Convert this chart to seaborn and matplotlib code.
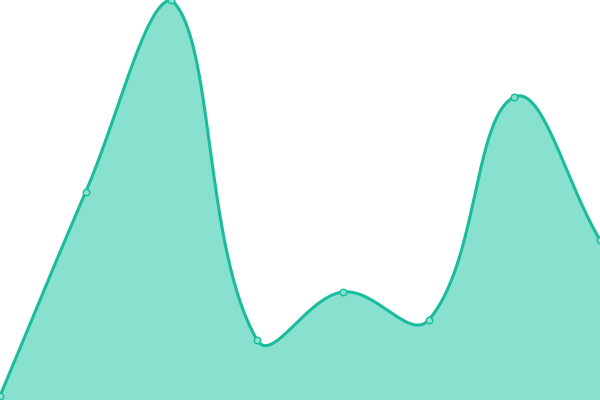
import numpy as np
import pandas as pd
import matplotlib
matplotlib.use("Agg")
import matplotlib.pyplot as plt
import seaborn as sns

categories = ["A", "B", "C", "D", "E", "F", "G", "H"]
values = [4, 208, 400, 60, 108, 80, 303, 160]

LINE = "#1abc9c"
FILL = "#88e0cf"
W, H = 600.0, 400.0
YMAX = 400.0


def smooth_path(xs, ys, tension=0.4, n=60):
    """Distance-weighted spline (Chart.js style), control points capped to area."""
    nx = len(xs) - 1
    P = np.column_stack([np.asarray(xs, float) / nx * W,
                         np.asarray(ys, float) / YMAX * H])
    cps_prev, cps_next = [], []
    for i in range(len(P)):
        p0 = P[i - 1] if i > 0 else P[i]
        p1 = P[i]
        p2 = P[i + 1] if i < len(P) - 1 else P[i]
        d01 = np.hypot(*(p1 - p0)); d12 = np.hypot(*(p2 - p1))
        s01 = d01 / (d01 + d12) if d01 + d12 else 0
        s12 = d12 / (d01 + d12) if d01 + d12 else 0
        fa, fb = tension * s01, tension * s12
        cp1 = p1 - fa * (p2 - p0)
        cp2 = p1 + fb * (p2 - p0)
        cp1 = np.clip(cp1, [0, 0], [W, H]); cp2 = np.clip(cp2, [0, 0], [W, H])
        cps_prev.append(cp1); cps_next.append(cp2)
    out = []
    for i in range(len(P) - 1):
        a, b, c, d = P[i], cps_next[i], cps_prev[i + 1], P[i + 1]
        t = np.linspace(0, 1, n, endpoint=(i == len(P) - 2))[:, None]
        pts = (1 - t) ** 3 * a + 3 * (1 - t) ** 2 * t * b + 3 * (1 - t) * t ** 2 * c + t ** 3 * d
        out.append(pts)
    pts = np.vstack(out)
    return pts[:, 0] / W * nx, pts[:, 1] / H * YMAX


sns.set_theme(style="white")
fig = plt.figure(figsize=(6, 4), dpi=100)
ax = fig.add_axes([0, 0, 1, 1])

xpos = np.arange(len(categories))
sx, sy = smooth_path(xpos, values)
ax.fill_between(sx, sy, 0, color=FILL, linewidth=0, zorder=1)
sns.lineplot(x=sx, y=sy, ax=ax, color=LINE, linewidth=2.2, sort=False, zorder=2)
sns.scatterplot(x=xpos, y=values, ax=ax, s=22, color=FILL, edgecolor=LINE,
                linewidth=1.0, zorder=3, clip_on=False)

ax.set_xlim(0, len(categories) - 1)
ax.set_ylim(0, YMAX)
ax.axis("off")
fig.savefig("out.png", dpi=100)
